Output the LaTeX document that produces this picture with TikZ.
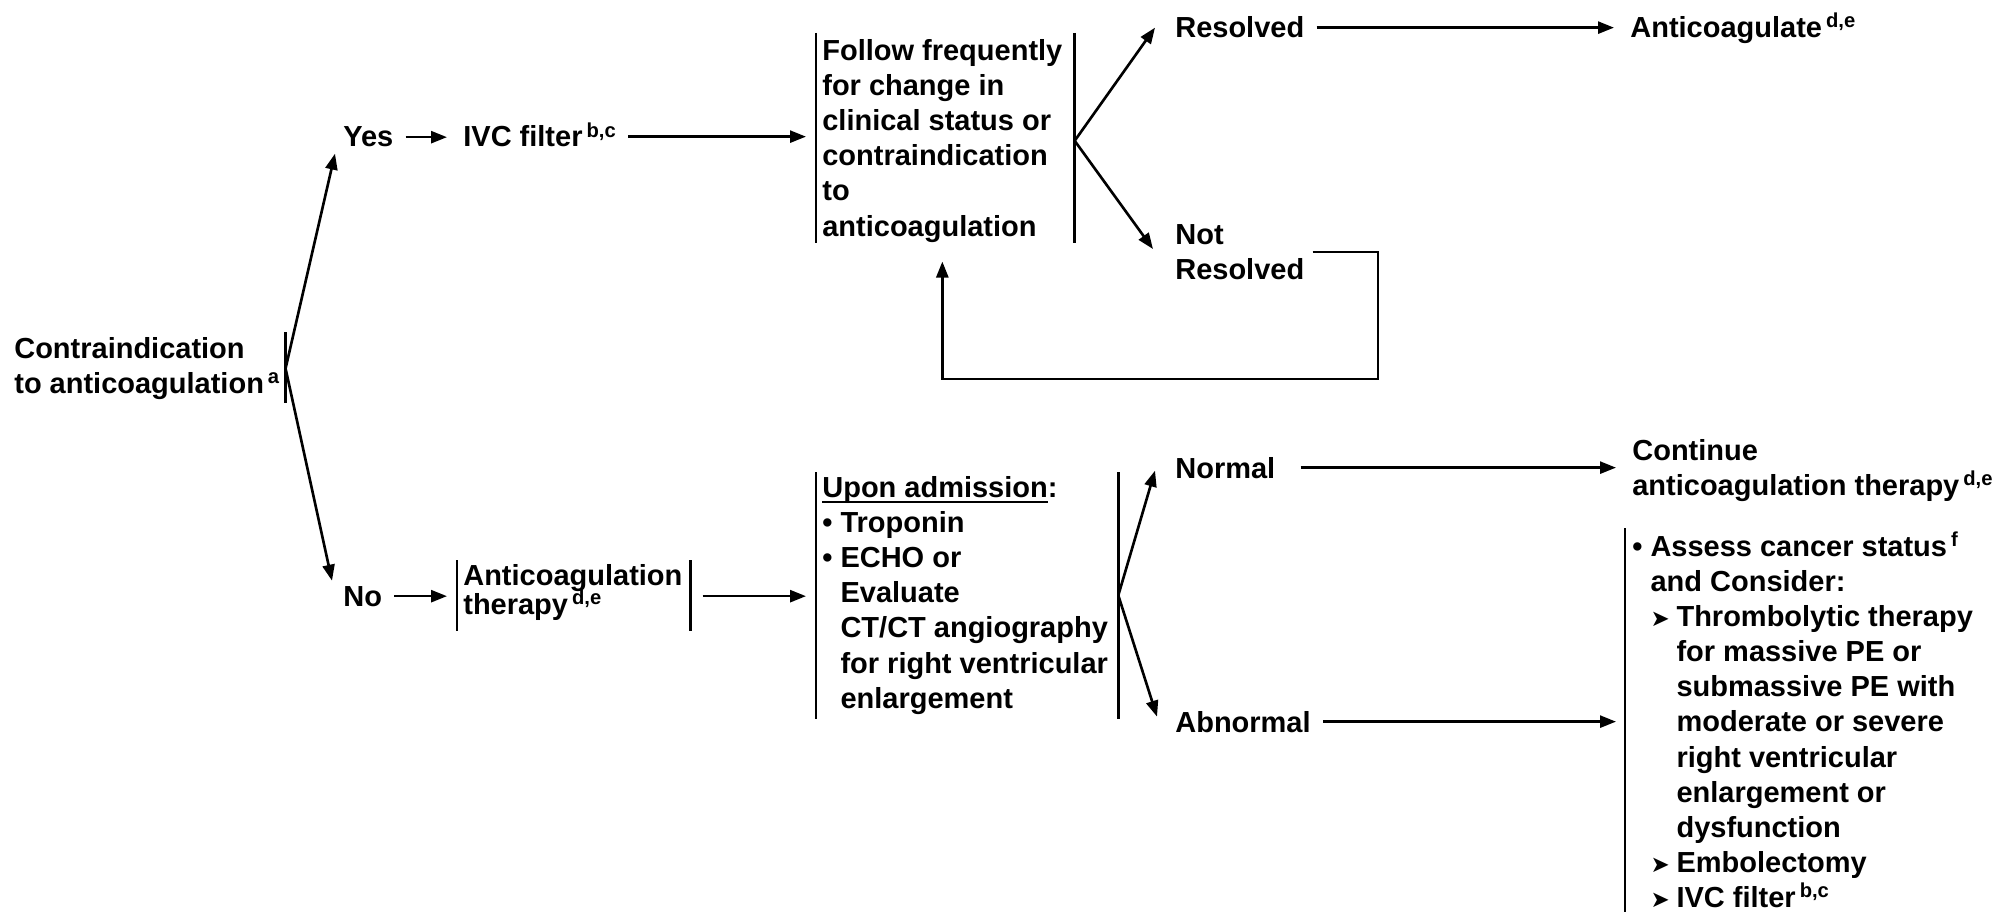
\documentclass[tikz,border=0pt]{standalone}
\usepackage{fontspec}
\setmainfont{Liberation Sans}
\newfontfamily\dingfont{DejaVu Sans}
\usetikzlibrary{arrows.meta, calc}

% footnote letters, bullets and sub-items
\newcommand\supnote[1]{\hspace{0.08cm}\raisebox{0.2cm}[0pt][0pt]{\fontsize{11.5}{11}\selectfont #1}}
\newcommand\bul{\textbullet\ }
\newcommand\tri{\makebox[0.52cm][l]{\dingfont\fontsize{13}{10}\selectfont ➤}}
\newcommand\udl[1]{\setbox0\hbox{#1}\rlap{\raisebox{-0.11cm}{\rule{\wd0}{0.045cm}}}\box0}

\begin{document}
\begin{tikzpicture}[x=0.02cm, y=-0.02cm]

% --- Styles ---
\tikzset{
    txt/.style={inner xsep=0.12cm, inner ysep=0pt, font=\fontsize{16.5}{20}\selectfont\bfseries},
    txtblock/.style={txt, align=left},
    bar/.style={line width=1.6pt},
    arr/.style={line width=1.5pt, -{Triangle[length=0.32cm, width=0.24cm]}},
    link/.style={arr, shorten >=0.2cm, shorten <=0.12cm},
}

\useasboundingbox (0,0) rectangle (2005,912);

% --- Start: the question ---
\node[txtblock, anchor=north west] (contra) at (8,337) {Contraindication\\to anticoagulation\supnote{a}};
\node[txt, anchor=base west] (yes) at (337,147) {Yes};
\node[txt, anchor=base west] (no) at (337,606) {No};

% --- Upper branch ---
\node[txt, anchor=base west] (ivc) at (457,147) {IVC filter\supnote{b,c}};
\node[txtblock, anchor=north west] (follow) at (816,39) {Follow frequently\\for change in\\clinical status or\\contraindication\\to\\anticoagulation};
\node[txt, anchor=base west] (resolved) at (1169,38) {Resolved};
\node[txtblock, anchor=north west] (notres) at (1169,224) {Not\\Resolved};
\node[txt, anchor=base west] (anticoagulate) at (1624,38) {Anticoagulate\supnote{d,e}};

% --- Lower branch ---
\node[txtblock, anchor=north west, font=\fontsize{16.5}{15.4}\selectfont\bfseries] (acther) at (457,564) {Anticoagulation\\therapy\supnote{d,e}};
\node[txtblock, anchor=north west] (upon) at (816,476) {\udl{Upon admission}:\\\bul Troponin\\\bul ECHO or\\\phantom{\bul}Evaluate\\\phantom{\bul}CT/CT angiography\\\phantom{\bul}for right ventricular\\\phantom{\bul}enlargement};
\node[txt, anchor=base west] (normal) at (1169,478) {Normal};
\node[txt, anchor=base west] (abnormal) at (1169,732) {Abnormal};
\node[txtblock, anchor=north west] (continue) at (1626,439) {Continue\\anticoagulation therapy\supnote{d,e}};
\node[txtblock, anchor=north west] (assess) at (1626,536) {\bul Assess cancer status\supnote{f}\\\phantom{\bul}and Consider:\\\phantom{\bul}\tri Thrombolytic therapy\\\phantom{\bul}\phantom{\tri}for massive PE or\\\phantom{\bul}\phantom{\tri}submassive PE with\\\phantom{\bul}\phantom{\tri}moderate or severe\\\phantom{\bul}\phantom{\tri}right ventricular\\\phantom{\bul}\phantom{\tri}enlargement or\\\phantom{\bul}\phantom{\tri}dysfunction\\\phantom{\bul}\tri Embolectomy\\\phantom{\bul}\tri IVC filter\supnote{b,c}};

% --- Bars beside the text blocks ---
\draw[bar] ($(contra.north east)+(0,-5)$) -- ($(contra.south east)+(0,3)$);
\draw[bar] ($(follow.north west)+(0,-6)$) -- (follow.south west);
\draw[bar] ($(follow.north east)+(6,-6)$) -- ($(follow.south east)+(6,0)$);
\draw[bar] ($(acther.north west)+(0,-4)$) -- ($(acther.south west)+(0,10)$);
\draw[bar] ($(acther.north east)+(2,-4)$) -- ($(acther.south east)+(2,10)$);
\draw[bar] ($(upon.north west)+(0,-4)$) -- ($(upon.south west)+(0,4)$);
\draw[bar] ($(upon.north east)+(4,-4)$) -- ($(upon.south east)+(4,4)$);
\draw[bar] ($(assess.north west)+(-1,-8)$) -- ($(assess.south west)+(-1,20)$);

% --- Arrows ---
\draw[arr] (contra.east) -- ($(yes.south west)+(-2,6)$);
\draw[arr] (contra.east) -- ($(no.north west)+(-5,-5)$);
\draw[link] (yes) -- (yes -| ivc.west);
\draw[link] (ivc) -- (ivc -| follow.west);
\draw[arr] ($(follow.east)+(6,0)$) -- ($(resolved.west)+(-14,0)$);
\draw[arr] ($(follow.east)+(6,0)$) -- ($(notres.west)+(-16,-3)$);
\draw[link] (resolved) -- (resolved -| anticoagulate.west);

% loop back from Not Resolved
\coordinate (loopcorner) at (1378,379);
\draw[arr, shorten >=0.38cm] ($(notres.east)+(2,0)$) -| (loopcorner) -| (follow.south);

\draw[link] (no) -- (no -| acther.west);
\draw[link, shorten <=0.28cm] (acther.east |- no.east) -- (upon.west |- no.east);
\draw[arr] ($(upon.east)+(4,0)$) -- ($(normal.west)+(-14,3)$);
\draw[arr] ($(upon.east)+(4,0)$) -- ($(abnormal.west)+(-12,-5)$);
\draw[link, shorten <=0.38cm] (normal) -- (normal -| continue.west);
\draw[link] (abnormal) -- (abnormal -| assess.west);

\end{tikzpicture}
\end{document}
